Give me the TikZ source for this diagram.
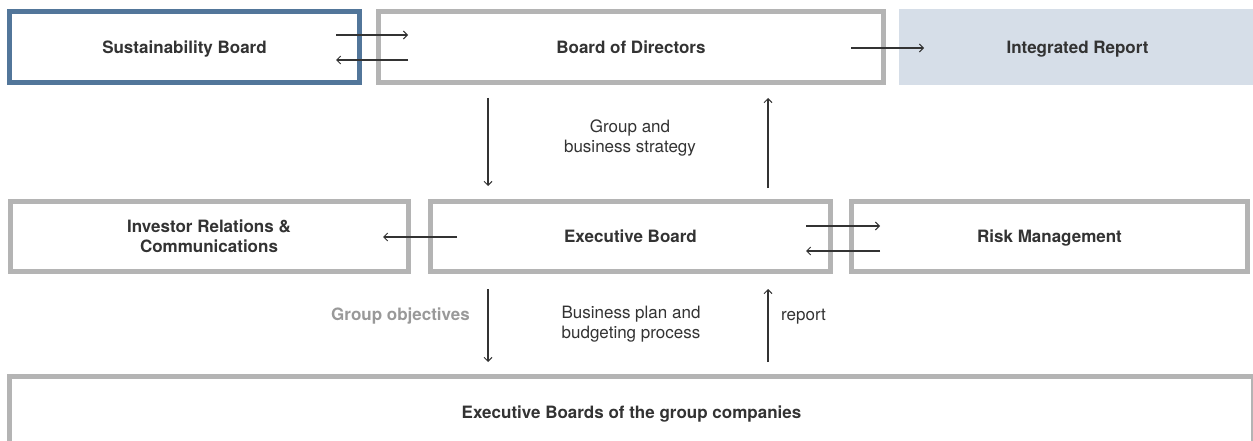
\documentclass[tikz,border=0pt]{standalone}
\usepackage{fontspec}
\setmainfont{TeX Gyre Heros}
\usetikzlibrary{arrows.meta}
\definecolor{txt}{HTML}{333333}
\definecolor{boxgrey}{HTML}{B4B4B4}
\definecolor{boxblue}{HTML}{52769A}
\definecolor{irfill}{HTML}{D6DEE8}
\definecolor{lblgrey}{HTML}{999999}
\begin{document}
\begin{tikzpicture}[x=1pt,y=-1pt,
  box/.style={draw=boxgrey,line width=5pt,inner sep=0pt,outer sep=0pt,align=center,
    font=\fontsize{17}{20}\selectfont\bfseries,text=txt},
  oneline/.style={text height=12.2pt,text depth=0pt},
  conn/.style={draw=txt,line width=1.1pt,-{Straight Barb[length=4pt,width=8pt,line width=1pt]}},
  lbl/.style={font=\fontsize{17}{20}\selectfont,text=txt,align=center,inner sep=0pt}]
\clip (0,0) rectangle (1253,441);
\fill[white] (0,0) rectangle (1253,441);
% top row
\node[box,oneline,draw=boxblue,line width=5.5pt,minimum width=350pt,minimum height=71pt] (sus) at (184.5,47) {Sustainability Board};
\node[box,oneline,minimum width=505pt,minimum height=71pt] (bod) at (631,47) {Board of Directors};
\node[box,oneline,draw=none,fill=irfill,minimum width=357pt,minimum height=76pt] (ir) at (1077.5,47) {Integrated Report};
% middle row
\node[box,minimum width=398pt,minimum height=70pt] (inv) at (209,236.5) {Investor Relations \&\\Communications};
\node[box,oneline,minimum width=400pt,minimum height=70pt] (exb) at (630.5,236.5) {Executive Board};
\node[box,oneline,minimum width=396pt,minimum height=70pt] (risk) at (1049.5,236.5) {Risk Management};
% bottom
\node[box,oneline,minimum width=1244pt,minimum height=71pt] (grp) at (631.5,412) {Executive Boards of the group companies};
% labels
\node[lbl] (l1) at (630,138) {Group and\\business strategy};
\node[lbl] (l2) at (631,324) {Business plan and\\budgeting process};
\node[lbl,oneline,anchor=east,text=lblgrey,font=\fontsize{17}{20}\selectfont\bfseries] (l3) at (470,314) {Group objectives};
\node[lbl,oneline,anchor=west] (l4) at (781,314) {report};
% connector end points
\coordinate (sa) at (336,35); \coordinate (sb) at (408,35);
\coordinate (sc) at (408,60); \coordinate (sd) at (336,60);
\coordinate (ba) at (851,48); \coordinate (bb) at (924,48);
\coordinate (d1a) at (488,98); \coordinate (d1b) at (488,186);
\coordinate (u1a) at (768,188); \coordinate (u1b) at (768,98);
\coordinate (ea) at (457,237); \coordinate (eb) at (383,237);
\coordinate (ra) at (806,226); \coordinate (rb) at (880,226);
\coordinate (rc) at (880,251); \coordinate (rd) at (806,251);
\coordinate (d2a) at (488,289); \coordinate (d2b) at (488,362);
\coordinate (u2a) at (768,362); \coordinate (u2b) at (768,289);
\draw[conn] (sa) -- (sb);
\draw[conn] (sc) -- (sd);
\draw[conn] (ba) -- (bb);
\draw[conn] (d1a) -- (d1b);
\draw[conn] (u1a) -- (u1b);
\draw[conn] (ea) -- (eb);
\draw[conn] (ra) -- (rb);
\draw[conn] (rc) -- (rd);
\draw[conn] (d2a) -- (d2b);
\draw[conn] (u2a) -- (u2b);
\end{tikzpicture}
\end{document}
